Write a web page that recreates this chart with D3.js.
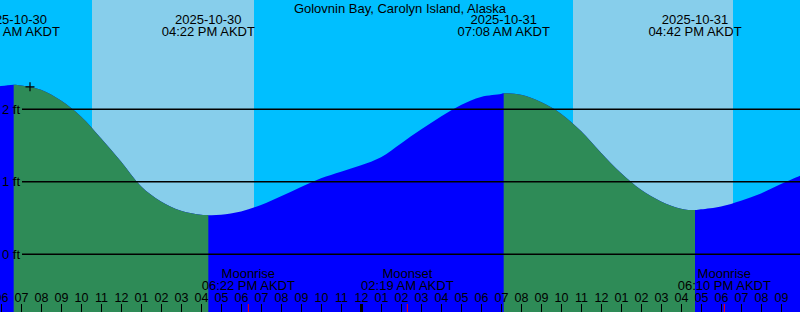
<!DOCTYPE html>
<html>
<head>
<meta charset="utf-8">
<script src="https://cdn.jsdelivr.net/npm/d3@7"></script>
<style>
body { margin: 0; background: #00bfff; }
svg { display: block; font-family: "Liberation Sans", Arial, sans-serif; }
</style>
</head>
<body>
<svg id="chart"></svg>
<script>
// Tide graph, Golovnin Bay - times are AKDT wall clock (parsed as UTC so the sandbox tz doesn't matter)

var width = 800,
    height = 312;

var title = "Golovnin Bay, Carolyn Island, Alaska";

// hourly heights (ft)
var tideTimes = [
  "2025-10-30 05:00", "2025-10-30 06:00", "2025-10-30 07:00", "2025-10-30 08:00",
  "2025-10-30 09:00", "2025-10-30 10:00", "2025-10-30 11:00", "2025-10-30 12:00",
  "2025-10-30 13:00", "2025-10-30 14:00", "2025-10-30 15:00", "2025-10-30 16:00",
  "2025-10-30 17:00", "2025-10-30 18:00", "2025-10-30 19:00", "2025-10-30 20:00",
  "2025-10-30 21:00", "2025-10-30 22:00", "2025-10-30 23:00", "2025-10-31 00:00",
  "2025-10-31 01:00", "2025-10-31 02:00", "2025-10-31 03:00", "2025-10-31 04:00",
  "2025-10-31 05:00", "2025-10-31 06:00", "2025-10-31 07:00", "2025-10-31 08:00",
  "2025-10-31 09:00", "2025-10-31 10:00", "2025-10-31 11:00", "2025-10-31 12:00",
  "2025-10-31 13:00", "2025-10-31 14:00", "2025-10-31 15:00", "2025-10-31 16:00",
  "2025-10-31 17:00", "2025-10-31 18:00", "2025-10-31 19:00", "2025-10-31 20:00",
  "2025-10-31 21:00", "2025-10-31 22:00"
];
var tideFeet = [
  2.26, 2.32, 2.33, 2.27,
  2.12, 1.90, 1.60, 1.28,
  0.94, 0.73, 0.60, 0.545,
  0.545, 0.59, 0.68, 0.80,
  0.93, 1.05, 1.14, 1.23,
  1.34, 1.53, 1.72, 1.90,
  2.06, 2.17, 2.21, 2.20,
  2.10, 1.94, 1.70, 1.40,
  1.12, 0.89, 0.73, 0.63,
  0.62, 0.66, 0.74, 0.84,
  0.97, 1.09
];

// high / low tides
var extremeTimes = ["2025-10-30 06:38", "2025-10-30 16:22", "2025-10-31 07:08", "2025-10-31 16:42"];
var extremeFeet  = [2.34, 0.54, 2.22, 0.61];
var extremeKinds = ["high", "low", "high", "low"];

var sunriseTimes = ["2025-10-30 10:33", "2025-10-31 10:36"];
var sunsetTimes  = ["2025-10-30 18:39", "2025-10-31 18:36"];

var moonTimes  = ["2025-10-30 18:22", "2025-10-31 02:19", "2025-10-31 18:10"];
var moonEvents = ["Moonrise", "Moonset", "Moonrise"];

var depthTicks = [0, 1, 2];

var nowTime = "2025-10-30 07:27",
    nowFeet = 2.31;

var colors = {night: "#00bfff", day: "#87ceeb", flood: "#0000ff", ebb: "#2e8b57"};

var parse = d3.utcParse("%Y-%m-%d %H:%M"),
    fmtDate = d3.utcFormat("%Y-%m-%d"),
    fmtTime = d3.utcFormat("%I:%M %p AKDT");

var xScale = d3.scaleUtc()
               .domain([parse("2025-10-30 05:57"), parse("2025-10-31 21:57")])
               .range([0, width]);
var yScale = d3.scaleLinear()
               .domain([0, 2])
               .range([254.3, 109.3]);

var series = tideTimes.map(function(t, i) { return {t: parse(t), ft: tideFeet[i]}; })
  .concat(extremeTimes.map(function(t, i) { return {t: parse(t), ft: extremeFeet[i]}; }))
  .sort(function(a, b) { return a.t - b.t; });

var svg = d3.select("#chart")
            .attr("width", width)
            .attr("height", height);

// night background, then daylight bands
svg.append("rect")
   .attr("width", width).attr("height", height)
   .attr("fill", colors.night);

svg.selectAll("rect.day")
   .data(sunriseTimes)
   .enter().append("rect")
   .attr("class", "day")
   .attr("x", function(d) { return xScale(parse(d)); })
   .attr("width", function(d, i) { return xScale(parse(sunsetTimes[i])) - xScale(parse(d)); })
   .attr("y", 0).attr("height", height)
   .attr("fill", colors.day);

var area = d3.area()
             .x(function(d) { return xScale(d.t); })
             .y0(height)
             .y1(function(d) { return yScale(d.ft); })
             .curve(d3.curveCatmullRom.alpha(0.5));

// ebb = from each high to the following low
var ebb = [];
extremeKinds.forEach(function(k, i) {
  if (k == "high") {
    var end = i + 1 < extremeTimes.length ? xScale(parse(extremeTimes[i + 1])) : width;
    ebb.push([xScale(parse(extremeTimes[i])), end]);
  }
});

svg.append("clipPath")
   .attr("id", "ebbclip")
   .selectAll("rect")
   .data(ebb)
   .enter().append("rect")
   .attr("x", function(d) { return d[0]; })
   .attr("width", function(d) { return d[1] - d[0]; })
   .attr("y", 0).attr("height", height);

svg.append("path")
   .datum(series)
   .attr("d", area)
   .attr("fill", colors.flood);

svg.append("path")
   .datum(series)
   .attr("d", area)
   .attr("fill", colors.ebb)
   .attr("clip-path", "url(#ebbclip)");

// depth lines
svg.selectAll("line.grid")
   .data(depthTicks)
   .enter().append("line")
   .attr("class", "grid")
   .attr("x1", 22).attr("x2", width)
   .attr("y1", function(d) { return yScale(d); })
   .attr("y2", function(d) { return yScale(d); })
   .attr("stroke", "#000")
   .attr("stroke-width", 1.6);

svg.selectAll("text.depth")
   .data(depthTicks)
   .enter().append("text")
   .attr("class", "depth")
   .attr("x", 20)
   .attr("y", function(d) { return yScale(d); })
   .attr("dy", "0.36em")
   .attr("text-anchor", "end")
   .style("font-size", "13px")
   .text(function(d) { return d + " ft"; });

// "now" cross
var nx = xScale(parse(nowTime)), ny = yScale(nowFeet);
svg.append("path")
   .attr("d", "M" + (nx - 4.5) + "," + ny + "H" + (nx + 4.5) + "M" + nx + "," + (ny - 4.5) + "V" + (ny + 4.5))
   .attr("stroke", "#000")
   .attr("stroke-width", 1.2);

svg.append("text")
   .attr("x", width / 2)
   .attr("y", 12.5)
   .attr("text-anchor", "middle")
   .style("font-size", "13px")
   .text(title);

// extreme labels at the top
var ext = svg.selectAll("g.ext")
   .data(extremeTimes)
   .enter().append("g")
   .attr("class", "ext")
   .attr("transform", function(d) { return "translate(" + xScale(parse(d)) + ",0)"; })
   .style("font-size", "13px")
   .attr("text-anchor", "middle");
ext.append("text").attr("y", 24).text(function(d) { return fmtDate(parse(d)); });
ext.append("text").attr("y", 36).text(function(d) { return fmtTime(parse(d)); });

// moon labels
var moon = svg.selectAll("g.moon")
   .data(moonTimes)
   .enter().append("g")
   .attr("class", "moon")
   .attr("transform", function(d) { return "translate(" + xScale(parse(d)) + ",0)"; })
   .style("font-size", "13px")
   .attr("text-anchor", "middle");
moon.append("text").attr("y", 278).text(function(d, i) { return moonEvents[i]; });
moon.append("text").attr("y", 290).text(function(d) { return fmtTime(parse(d)); });

// hour axis
var xAxis = d3.axisTop(xScale)
              .ticks(d3.utcHour.every(1))
              .tickFormat(d3.utcFormat("%I"))
              .tickSize(8)
              .tickPadding(2);

var ax = svg.append("g")
   .attr("transform", "translate(0," + height + ")")
   .call(xAxis);
ax.select(".domain").remove();
ax.selectAll("text")
  .attr("fill", "#000")
  .style("font-size", "12.5px")
  .style("font-family", "'Liberation Sans', Arial, sans-serif");
ax.selectAll("line").attr("stroke", "#000");
ax.selectAll(".tick")
  .filter(function(d) { return d.getUTCHours() == 0; })
  .select("line")
  .attr("stroke-width", 3);

svg.selectAll("line.moontick")
   .data(moonTimes)
   .enter().append("line")
   .attr("class", "moontick")
   .attr("x1", function(d) { return xScale(parse(d)); })
   .attr("x2", function(d) { return xScale(parse(d)); })
   .attr("y1", height - 8).attr("y2", height)
   .attr("stroke", "#ff0000");
</script>
</body>
</html>
